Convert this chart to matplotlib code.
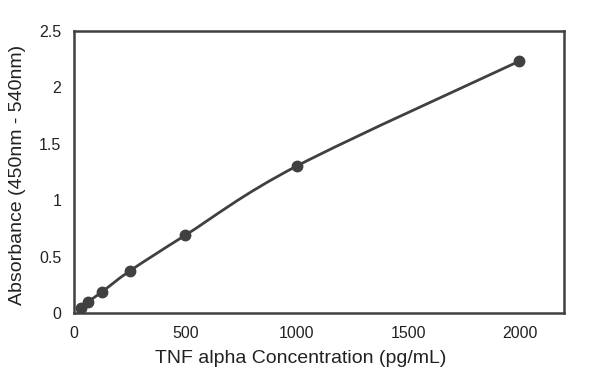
import numpy as np
import matplotlib
matplotlib.use('Agg')
import matplotlib.pyplot as plt
from matplotlib.path import Path
from matplotlib.patches import PathPatch

# standard curve data
conc_pg_ml = [31.25, 62.5, 125, 250, 500, 1000, 2000]
absorbance = [0.044, 0.098, 0.186, 0.372, 0.690, 1.303, 2.234]

x_ticks = [0, 500, 1000, 1500, 2000]
y_ticks = [0, 0.5, 1, 1.5, 2, 2.5]
y_tick_labels = ['0', '0.5', '1', '1.5', '2', '2.5']

GREY = '#404040'
plt.rcParams['font.family'] = ['Liberation Sans', 'DejaVu Sans']

fig = plt.figure(figsize=(6.0, 3.82), dpi=100)
ax = fig.add_axes([0.1233, 0.1806, 0.8167, 0.738])

# smoothed line (Catmull-Rom style bezier, like a spreadsheet "smoothed line")
pts = np.column_stack([conc_pg_ml, absorbance])
ext = np.vstack([pts[0], pts, pts[-1]])
verts = [tuple(pts[0])]
codes = [Path.MOVETO]
for i in range(len(pts) - 1):
    p0, p1, p2, p3 = ext[i], ext[i + 1], ext[i + 2], ext[i + 3]
    c1 = p1 + (p2 - p0) / 6.0
    c2 = p2 - (p3 - p1) / 6.0
    verts += [tuple(c1), tuple(c2), tuple(p2)]
    codes += [Path.CURVE4, Path.CURVE4, Path.CURVE4]
ax.add_patch(PathPatch(Path(verts, codes), facecolor='none',
                       edgecolor=GREY, linewidth=2.0, zorder=2))

ax.plot(conc_pg_ml, absorbance, linestyle='none', marker='o',
        markersize=7.5, color=GREY, zorder=3)

ax.set_xlim(0, 2200)
ax.set_ylim(0, 2.5)
ax.set_xticks(x_ticks)
ax.set_yticks(y_ticks)
ax.set_yticklabels(y_tick_labels)
ax.tick_params(length=0, labelsize=11.5, colors='#222222', pad=9)

for s in ax.spines.values():
    s.set_color(GREY)
    s.set_linewidth(1.8)

ax.set_xlabel('TNF alpha Concentration (pg/mL)', fontsize=14,
              color='#222222')
ax.xaxis.set_label_coords(0.463, -0.13)
ax.set_ylabel('Absorbance (450nm - 540nm)', fontsize=14,
              color='#222222')
ax.yaxis.set_label_coords(-0.097, 0.49)

fig.savefig('out.png', dpi=100, facecolor='white')
